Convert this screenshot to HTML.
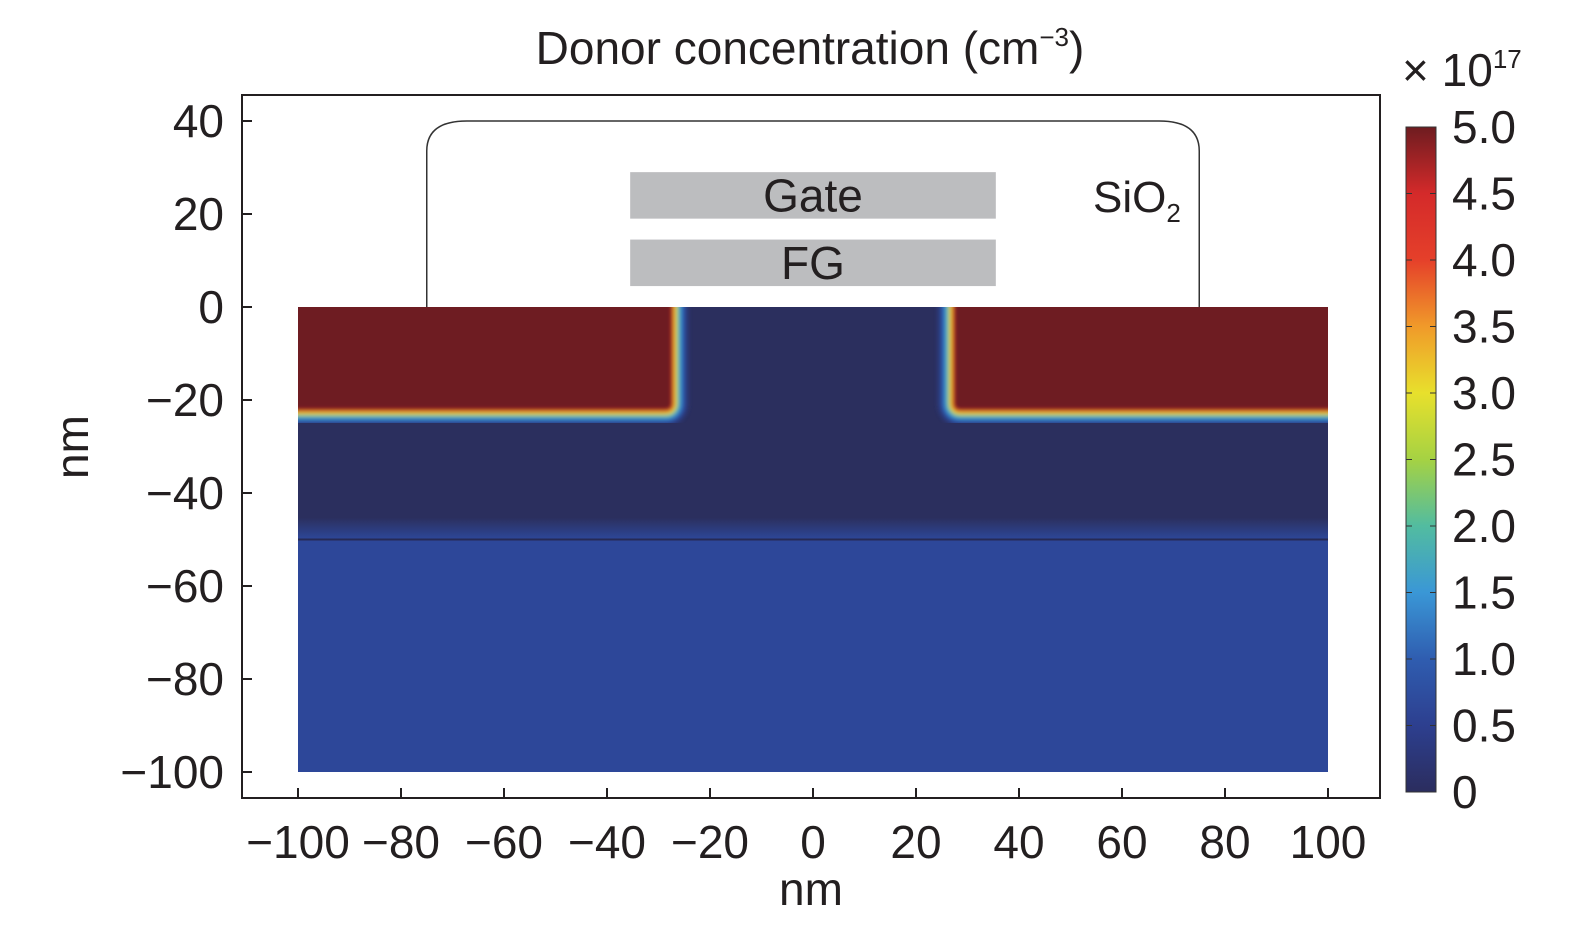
<!DOCTYPE html>
<html><head><meta charset="utf-8"><style>
body{margin:0;background:#fff;}
svg text{font-family:"Liberation Sans","DejaVu Sans",sans-serif;fill:#231f20;}
</style></head><body>
<svg width="1575" height="925" viewBox="0 0 1575 925">
<defs>
<linearGradient id="jet" x1="0" y1="1" x2="0" y2="0">
<stop offset="0" stop-color="#2b2d5e"/><stop offset="0.1" stop-color="#2d3f8f"/><stop offset="0.2" stop-color="#2f5db0"/>
<stop offset="0.3" stop-color="#3a97d6"/><stop offset="0.4" stop-color="#52bca0"/><stop offset="0.5" stop-color="#a5d243"/>
<stop offset="0.6" stop-color="#e8e02c"/><stop offset="0.7" stop-color="#f09a2a"/><stop offset="0.8" stop-color="#e5402a"/>
<stop offset="0.9" stop-color="#d42a2a"/><stop offset="1" stop-color="#6e1c20"/>
</linearGradient>
<linearGradient id="wellg" x1="0" y1="0" x2="0" y2="1">
<stop offset="0" stop-color="#2b2f5e"/><stop offset="1" stop-color="#2d4799"/>
</linearGradient>
<clipPath id="clipSi"><rect x="298" y="307" width="1030" height="465"/></clipPath>
<filter id="soft" x="-10%" y="-10%" width="120%" height="120%"><feGaussianBlur stdDeviation="2"/></filter>
</defs>
<g id="plot"></g>
</svg>
<script>
const xTicks=[-100,-80,-60,-40,-20,0,20,40,60,80,100];
const yTicks=[40,20,0,-20,-40,-60,-80,-100];
const cbTicks=[0,0.5,1.0,1.5,2.0,2.5,3.0,3.5,4.0,4.5,5.0];
const siExtent=[-100,100,0,-100];
const wellDepth=[-50];
const sdLeft=[-100,-27.5,-22];
const sdRight=[27.5,100,-22];
const oxide=[-75,75,0,40];
const gate=[-35.5,35.5,19,29];
const fg=[-35.5,35.5,4.5,14.5];
const X=v=>813+v*5.15, Y=v=>307-v*4.65, CB=v=>792-v*133;
const ns="http://www.w3.org/2000/svg";
const g=document.getElementById('plot');
function el(t,a,p){const e=document.createElementNS(ns,t);for(const k in a)e.setAttribute(k,a[k]);(p||g).appendChild(e);return e;}
const FS=46;
const fr=el('rect',{x:242,y:95,width:1138,height:703,fill:'none',stroke:'#231f20','stroke-width':2});

const ox=el('path',{d:`M${X(oxide[0])},${Y(0)} V${Y(oxide[3])+30} Q${X(oxide[0])},${Y(oxide[3])} ${X(oxide[0])+40},${Y(oxide[3])} H${X(oxide[1])-40} Q${X(oxide[1])},${Y(oxide[3])} ${X(oxide[1])},${Y(oxide[3])+30} V${Y(0)}`,fill:'none',stroke:'#333','stroke-width':1.5});

[[gate,'Gate','gate-block'],[fg,'FG','floating-gate-block']].forEach(([r,t,n])=>{
 const re=el('rect',{x:X(r[0]),y:Y(r[3]),width:X(r[1])-X(r[0]),height:Y(r[2])-Y(r[3]),fill:'#bcbdbf'});
 
 const tx=el('text',{x:(X(r[0])+X(r[1]))/2,y:(Y(r[2])+Y(r[3]))/2+16,'text-anchor':'middle','font-size':FS});tx.textContent=t;
 
});
const si=el('text',{x:1093,y:212,'font-size':44});si.innerHTML='SiO<tspan font-size="26" dy="10">2</tspan>';

const sg=el('g',{'clip-path':'url(#clipSi)'});

el('rect',{x:X(siExtent[0]),y:Y(siExtent[2]),width:X(siExtent[1])-X(siExtent[0]),height:Y(siExtent[3])-Y(siExtent[2]),fill:'#2d4799'},sg);
el('rect',{x:X(siExtent[0]),y:Y(siExtent[2]),width:X(siExtent[1])-X(siExtent[0]),height:Y(wellDepth[0])-Y(siExtent[2])-22,fill:'#2b2f5e'},sg);
el('rect',{x:X(siExtent[0]),y:Y(wellDepth[0])-22,width:X(siExtent[1])-X(siExtent[0]),height:22,fill:'url(#wellg)'},sg);
el('line',{x1:X(-100),x2:X(100),y1:Y(wellDepth[0]),y2:Y(wellDepth[0]),stroke:'#262a55','stroke-width':2},sg);
const strokes=[[34,'#2c3a80'],[26,'#2f5cb2'],[20,'#3a9ad8'],[15,'#6cc37e'],[11,'#e3dd30'],[7,'#f08a2a'],[4,'#dd3327']];
[sdLeft,sdRight].forEach((r,i)=>{
 const x0=X(r[0]),x1=X(r[1]),y0=Y(0)-30,y1=Y(r[2]);
 const d2=i==0?`M${x0-30},${y0} H${x1} V${y1-6} Q${x1},${y1} ${x1-6},${y1} H${x0-30} Z`
              :`M${x1+30},${y0} H${x0} V${y1-6} Q${x0},${y1} ${x0+6},${y1} H${x1+30} Z`;
 const rg=el('g',{},sg);
 
 const bg=el('g',{filter:'url(#soft)'},rg);
 strokes.forEach(s=>el('path',{d:d2,fill:'none',stroke:s[1],'stroke-width':s[0],'stroke-linejoin':'round'},bg));
 el('path',{d:d2,fill:'#6e1c20',stroke:'#6e1c20','stroke-width':1},bg);
});
xTicks.forEach(v=>{
 const l=el('line',{x1:X(v),x2:X(v),y1:798,y2:788,stroke:'#231f20','stroke-width':2});
 
 const t=el('text',{x:X(v),y:858,'text-anchor':'middle','font-size':FS});t.textContent=v<0?'\u2212'+(-v):v;
 
});
yTicks.forEach(v=>{
 const l=el('line',{x1:242,x2:252,y1:Y(v),y2:Y(v),stroke:'#231f20','stroke-width':2});
 
 const t=el('text',{x:224,y:Y(v)+16,'text-anchor':'end','font-size':FS});t.textContent=v<0?'\u2212'+(-v):v;
 
});
const xt=el('text',{x:811,y:905,'text-anchor':'middle','font-size':FS});xt.textContent='nm';

const yt=el('text',{x:0,y:0,'text-anchor':'middle','font-size':FS,transform:'translate(88,447) rotate(-90)'});yt.textContent='nm';

const ti=el('text',{x:810,y:64,'text-anchor':'middle','font-size':FS});ti.innerHTML='Donor concentration (cm<tspan font-size="26" dy="-18">\u22123</tspan><tspan dy="18">)</tspan>';

const cb=el('rect',{x:1406,y:CB(5),width:30,height:CB(0)-CB(5),fill:'url(#jet)',stroke:'#333','stroke-width':1});

cbTicks.forEach(v=>{
 el('line',{x1:1406,x2:1412,y1:CB(v),y2:CB(v),stroke:'#333','stroke-width':1});
 el('line',{x1:1430,x2:1436,y1:CB(v),y2:CB(v),stroke:'#333','stroke-width':1});
 const t=el('text',{x:1452,y:CB(v)+16,'font-size':FS});t.textContent=v==0?'0':v.toFixed(1);
 
});
const cm=el('text',{x:1402,y:86,'font-size':FS});cm.innerHTML='\u00d7 10<tspan font-size="26" dy="-18">17</tspan>';

</script>
</body></html>
